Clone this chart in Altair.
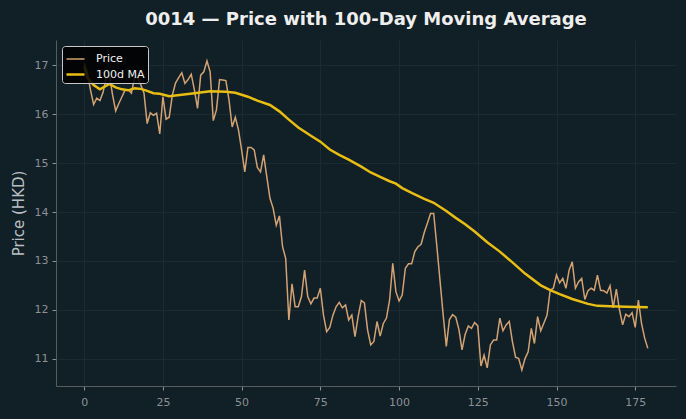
import altair as alt
import pandas as pd

# Daily closing prices for 0014 over the last 180 sessions
price = [
    17.05, 16.85, 16.50, 16.20, 16.33, 16.28, 16.45, 16.75, 16.80, 16.40,
    16.07, 16.22, 16.36, 16.50, 16.50, 16.43, 16.75, 16.75, 16.60, 16.43,
    15.81, 16.03, 15.98, 16.02, 15.60, 16.36, 15.90, 15.94, 16.39, 16.64,
    16.75, 16.85, 16.63, 16.71, 16.82, 16.50, 16.12, 16.80, 16.87, 17.09,
    16.87, 15.87, 16.09, 16.71, 16.70, 16.69, 16.29, 15.74, 15.94, 15.68,
    15.27, 14.82, 15.32, 15.32, 15.27, 14.91, 14.82, 15.17, 14.72, 14.28,
    14.08, 13.73, 13.92, 13.29, 13.05, 11.79, 12.53, 12.06, 12.06, 12.27,
    12.81, 12.27, 12.12, 12.24, 12.24, 12.44, 11.89, 11.55, 11.64, 11.89,
    12.06, 12.15, 12.04, 12.10, 11.79, 11.89, 11.45, 11.86, 12.19, 12.14,
    11.59, 11.28, 11.35, 11.76, 11.46, 11.72, 11.83, 12.20, 12.95, 12.37,
    12.18, 12.30, 12.85, 12.94, 12.94, 13.19, 13.29, 13.34, 13.58, 13.77,
    13.97, 13.97, 13.30, 12.60, 11.90, 11.25, 11.80, 11.90, 11.85, 11.60,
    11.18, 11.50, 11.67, 11.62, 11.74, 11.67, 10.85, 11.07, 10.81, 11.28,
    11.38, 11.38, 11.83, 11.57, 11.69, 11.76, 11.35, 11.03, 11.00, 10.77,
    11.00, 11.14, 11.62, 11.31, 11.86, 11.57, 11.73, 11.89, 12.40, 12.44,
    12.71, 12.55, 12.64, 12.44, 12.81, 12.98, 12.44, 12.57, 12.64, 12.21,
    12.39, 12.44, 12.40, 12.71, 12.40, 12.39, 12.34, 12.49, 12.04, 12.42,
    12.00, 11.69, 11.91, 11.86, 11.94, 11.64, 12.20, 11.72, 11.42, 11.21,
]
days = list(range(len(price)))

# 100-day moving average (uses history before day 0), sampled sessions
ma_days = [0, 1, 3, 5, 8, 10, 12, 14, 16, 18, 20, 22, 24, 27, 31, 35, 40, 45,
           48, 52, 55, 59, 62, 65, 68, 72, 75, 78, 81, 84, 88, 91, 94, 97, 99,
           101, 104, 108, 111, 115, 118, 121, 124, 128, 132, 136, 140, 145,
           148, 151, 155, 160, 163, 167, 172, 179]
ma_values = [16.98, 16.75, 16.60, 16.51, 16.62, 16.55, 16.51, 16.49, 16.53,
             16.52, 16.48, 16.43, 16.42, 16.37, 16.40, 16.43, 16.47, 16.46,
             16.44, 16.36, 16.28, 16.19, 16.06, 15.89, 15.73, 15.56, 15.44,
             15.28, 15.17, 15.07, 14.93, 14.81, 14.72, 14.63, 14.58, 14.49,
             14.39, 14.27, 14.19, 14.02, 13.88, 13.75, 13.60, 13.38, 13.19,
             12.97, 12.74, 12.50, 12.40, 12.32, 12.22, 12.12, 12.08, 12.07,
             12.06, 12.05]

series_names = ["Price", "100d MA"]
series_colors = ["#d2a273", "#e8bd14"]
series_widths = [1.5, 2.5]

x_ticks = [0, 25, 50, 75, 100, 125, 150, 175]
y_ticks = [11, 12, 13, 14, 15, 16, 17]

df = pd.concat([
    pd.DataFrame({"day": days, "value": price, "series": series_names[0]}),
    pd.DataFrame({"day": ma_days, "value": ma_values, "series": series_names[1]}),
])

FONT = "DejaVu Sans"
BG = "#111f26"

chart = alt.Chart(df).mark_line().encode(
    x=alt.X("day:Q",
            scale=alt.Scale(domain=[-8.95, 187.95], nice=False, zero=False),
            axis=alt.Axis(values=x_ticks, title=None, format="d")),
    y=alt.Y("value:Q",
            scale=alt.Scale(domain=[10.44, 17.52], nice=False, zero=False),
            axis=alt.Axis(values=y_ticks, title="Price (HKD)", format="d")),
    color=alt.Color("series:N",
                    scale=alt.Scale(domain=series_names, range=series_colors),
                    legend=alt.Legend(title=None, orient="none",
                                      legendX=6, legendY=6,
                                      symbolType="stroke",
                                      symbolSize=324,
                                      symbolStrokeWidth=2,
                                      labelFont=FONT, labelFontSize=11,
                                      labelColor="#f0f0f0",
                                      fillColor="rgba(0,0,0,0.85)",
                                      strokeColor="#c8c8c8",
                                      cornerRadius=3,
                                      padding=3, rowPadding=-5,
                                      labelOffset=10)),
    strokeWidth=alt.StrokeWidth("series:N",
                                scale=alt.Scale(domain=series_names, range=series_widths),
                                legend=None),
    order=alt.value(0),
).properties(
    width=620,
    height=346,
    background=BG,
    padding={"left": 56, "top": 40, "right": 10, "bottom": 33},
    autosize=alt.AutoSizeParams(type="none"),
    title=alt.TitleParams("0014 \u2014 Price with 100-Day Moving Average",
                          font=FONT, fontSize=18, fontWeight="bold",
                          color="#eeeeee", anchor="middle", offset=11),
).configure_view(
    stroke=None,
    fill=BG,
).configure_axis(
    labelFont=FONT,
    titleFont=FONT,
    labelFontSize=11,
    labelColor="#8b9196",
    tickColor="#8b9196",
    tickSize=4,
    domainColor="#565c60",
    gridColor="#1c2a31",
    gridOpacity=1,
    titleColor="#b9c0c4",
    titleFontSize=15,
    titleFontWeight="normal",
).configure_axisX(
    labelPadding=6,
).configure_axisY(
    labelPadding=4,
    titlePadding=8,
)

chart.save("out.html", embed_options={"renderer": "svg", "actions": False})
